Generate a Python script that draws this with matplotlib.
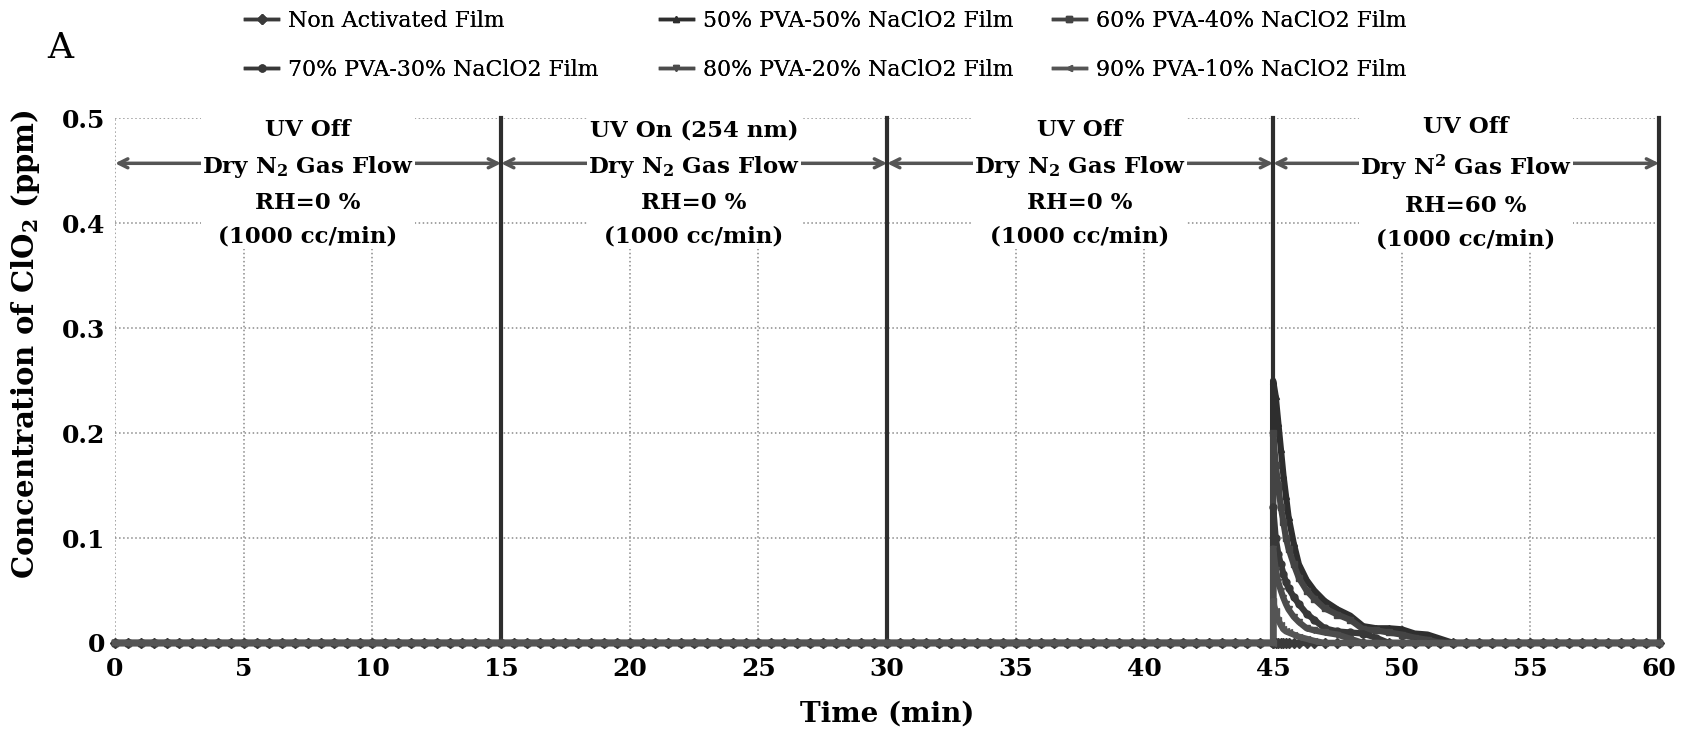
"""ClO2 release from PVA/NaClO2 films under UV and humidity steps."""

import numpy as np
import matplotlib.pyplot as plt

plt.rcParams["font.family"] = ["DejaVu Serif"]
plt.rcParams["mathtext.fontset"] = "dejavuserif"

# sampling times (min): flat baseline up to the humidity step, the decay, then flat again
lead_times = np.arange(0, 45.01, 0.5)
decay_times = [45.0, 45.1, 45.2, 45.3, 45.4, 45.5, 45.6, 45.8, 46.0, 46.3, 46.6,
               47.0, 47.5, 48.0, 48.5, 49.0, 49.5, 50.0, 50.5, 51.0, 51.5, 52.0]
tail_times = np.arange(52.5, 60.01, 0.5)

series_names = [
    "Non Activated Film",
    "50% PVA-50% NaClO2 Film",
    "60% PVA-40% NaClO2 Film",
    "70% PVA-30% NaClO2 Film",
    "80% PVA-20% NaClO2 Film",
    "90% PVA-10% NaClO2 Film",
]

# ClO2 (ppm) read over decay_times
decay_non_activated = [0.0] * len(decay_times)
decay_50 = [0.25, 0.235, 0.21, 0.185, 0.16, 0.14, 0.12, 0.095, 0.075, 0.06, 0.05,
            0.04, 0.032, 0.026, 0.016, 0.014, 0.014, 0.013, 0.009, 0.008, 0.004, 0.0]
decay_60 = [0.2, 0.17, 0.15, 0.13, 0.115, 0.1, 0.09, 0.075, 0.062, 0.05, 0.042,
            0.033, 0.027, 0.022, 0.013, 0.012, 0.01, 0.008, 0.005, 0.003, 0.0, 0.0]
decay_70 = [0.13, 0.1, 0.085, 0.075, 0.066, 0.058, 0.052, 0.044, 0.037, 0.028, 0.022,
            0.014, 0.011, 0.01, 0.009, 0.005, 0.0, 0.0, 0.0, 0.0, 0.0, 0.0]
decay_80 = [0.09, 0.07, 0.058, 0.05, 0.043, 0.037, 0.032, 0.025, 0.02, 0.014, 0.012,
            0.01, 0.008, 0.004, 0.0, 0.0, 0.0, 0.0, 0.0, 0.0, 0.0, 0.0]
decay_90 = [0.04, 0.03, 0.022, 0.017, 0.013, 0.011, 0.01, 0.008, 0.006, 0.004, 0.002,
            0.0, 0.0, 0.0, 0.0, 0.0, 0.0, 0.0, 0.0, 0.0, 0.0, 0.0]
decays = [decay_non_activated, decay_50, decay_60, decay_70, decay_80, decay_90]

section_edges = [0, 15, 30, 45, 60]
section_notes = [
    "UV Off\nDry N$_\\mathbf{2}$ Gas Flow\nRH=0 %\n(1000 cc/min)",
    "UV On (254 nm)\nDry N$_\\mathbf{2}$ Gas Flow\nRH=0 %\n(1000 cc/min)",
    "UV Off\nDry N$_\\mathbf{2}$ Gas Flow\nRH=0 %\n(1000 cc/min)",
    "UV Off\nDry N$^\\mathbf{2}$ Gas Flow\nRH=60 %\n(1000 cc/min)",
]

colors = ["#3a3a3a", "#2e2e2e", "#444444", "#383838", "#4c4c4c", "#555555"]
markers = ["D", "^", "s", "o", "v", "<"]

fig = plt.figure(figsize=(16.82, 7.34), dpi=100)
ax = fig.add_axes([0.0684, 0.124, 0.918, 0.715])

times = np.concatenate([lead_times, decay_times, tail_times])
lines = []
for name, decay, color, marker in zip(series_names, decays, colors, markers):
    values = np.concatenate([np.zeros(len(lead_times)), decay, np.zeros(len(tail_times))])
    (line,) = ax.plot(times, values, color=color, lw=4.5, marker=marker, ms=5,
                      label=name, zorder=4, clip_on=False)
    lines.append(line)

for edge in section_edges[1:]:
    ax.axvline(edge, color="#2e2e2e", lw=3, zorder=3, clip_on=False)

for start, end, note in zip(section_edges[:-1], section_edges[1:], section_notes):
    ax.annotate("", xy=(end, 0.457), xytext=(start, 0.457),
                arrowprops=dict(arrowstyle="<->", color="#555555", lw=2.5,
                                mutation_scale=16, shrinkA=0, shrinkB=0),
                zorder=2)
    ax.text((start + end) / 2, 0.438, note, ha="center", va="center",
            multialignment="center", fontsize=16.5, fontweight="bold",
            linespacing=1.68, zorder=3,
            bbox=dict(facecolor="white", edgecolor="none", pad=1))

ax.set_xlim(0, 60)
ax.set_ylim(0, 0.5)
ax.set_xticks(range(0, 61, 5))
ax.set_yticks([0, 0.1, 0.2, 0.3, 0.4, 0.5])
ax.set_yticklabels(["0", "0.1", "0.2", "0.3", "0.4", "0.5"])
ax.tick_params(length=0, labelsize=18)
ax.tick_params(axis="x", pad=10)
ax.tick_params(axis="y", pad=7)
for lab in ax.get_xticklabels() + ax.get_yticklabels():
    lab.set_fontweight("bold")
for spine in ax.spines.values():
    spine.set_visible(False)
ax.grid(True, linestyle=":", color="#8a8a8a", lw=1.1)
ax.set_axisbelow(True)

ax.set_xlabel("Time (min)", fontsize=20, fontweight="bold", labelpad=14)
ax.set_ylabel("Concentration of ClO$_\\mathbf{2}$ (ppm)", fontsize=21,
              fontweight="bold", labelpad=12)
ax.yaxis.set_label_coords(-0.047, 0.57)

fig.text(0.028, 0.935, "A", fontsize=26, ha="left", va="center")

# legend laid out as two rows of three, one legend per column
col_x = [0.1457, 0.3924, 0.626]
order = [(0, 3), (1, 4), (2, 5)]
for x0, (top, bottom) in zip(col_x, order):
    leg = fig.legend([lines[top], lines[bottom]], [series_names[top], series_names[bottom]],
                     loc="upper left", bbox_to_anchor=(x0, 0.987), frameon=False,
                     fontsize=15.8, handlelength=1.5, handletextpad=0.45,
                     labelspacing=1.25, borderpad=0, borderaxespad=0)
    for handle in leg.legend_handles:
        handle.set_linewidth(2.5)
    fig.add_artist(leg)

fig.savefig("out.png", dpi=100)
